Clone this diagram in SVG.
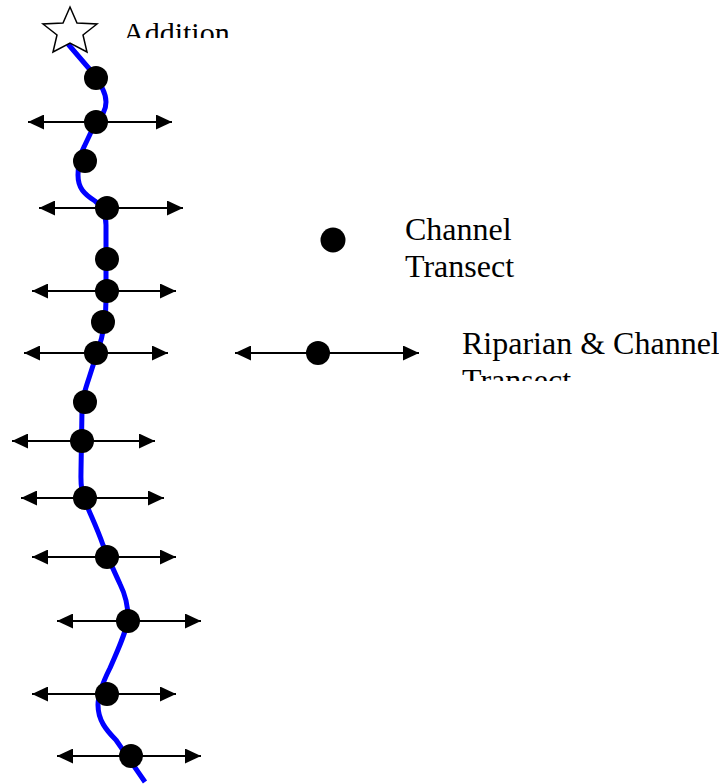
<svg xmlns="http://www.w3.org/2000/svg" width="719" height="784" viewBox="0 0 719 784">
<style>
.lbl{font-family:"Liberation Serif","Times New Roman",serif;font-size:32px;fill:#000}
.river{fill:none;stroke:#0000FF;stroke-width:5;stroke-linecap:butt;stroke-linejoin:round}
.dot{fill:#000}
.tr{stroke:#000;stroke-width:2;marker-start:url(#ah);marker-end:url(#ah)}
</style>
<defs>
<marker id="ah" viewBox="0 -7.5 16 15" refX="16" refY="0" markerWidth="16" markerHeight="15" markerUnits="userSpaceOnUse" orient="auto-start-reverse">
<path d="M0,-7.5 L16,0 L0,7.5 Z" fill="#000"/>
</marker>
<clipPath id="clipAdd"><rect x="100" y="0" width="200" height="38"/></clipPath>
<clipPath id="clipRip"><rect x="440" y="310" width="279" height="71"/></clipPath>
</defs>
<rect width="719" height="784" fill="#fff"/>
<g id="river">
<path class="river" d="M68,44 L92,72 C100,84 106,92 106,102 C106,112 100,118 92,130 L84,147 C79,156 78,165 78,175 C78,188 84,194 95,201 C103,207 106,214 106,225 L106,300 C106,320 104,333 98,350 L89,378 C85,390 83,396 82,410 L81,470 C81,480 80,488 84,498 C88,510 96,525 103,545 C108,558 114,571 120,584 C126,596 128,606 128,618 C127,630 118,650 110,668 C104,680 98,693 98,705 C98,720 106,730 116,740 L145,782"/>
</g>
<g id="addition">
<polygon points="70,7 77,23 97,24 83,35 87,52 70,43 53,52 57,35 43,24 63,23" fill="#fff" stroke="#000" stroke-width="1.5" stroke-linejoin="miter"/>
<text class="lbl" x="123" y="43" style="font-size:30px" clip-path="url(#clipAdd)">Addition</text>
</g>
<g id="channel-transects">
<circle class="dot" cx="96" cy="78" r="12"/>
<circle class="dot" cx="85" cy="161" r="12"/>
<circle class="dot" cx="107" cy="259" r="12"/>
<circle class="dot" cx="103" cy="322" r="12"/>
<circle class="dot" cx="85" cy="402" r="12"/>
</g>
<g id="connectors">
<line class="tr" x1="28" y1="122" x2="172" y2="122"/>
<line class="tr" x1="39" y1="208" x2="183" y2="208"/>
<line class="tr" x1="32" y1="291" x2="176" y2="291"/>
<line class="tr" x1="24" y1="353" x2="168" y2="353"/>
<line class="tr" x1="12" y1="441" x2="155" y2="441"/>
<line class="tr" x1="21" y1="498" x2="164" y2="498"/>
<line class="tr" x1="32" y1="557" x2="176" y2="557"/>
<line class="tr" x1="57" y1="621" x2="201" y2="621"/>
<line class="tr" x1="32" y1="694" x2="176" y2="694"/>
<line class="tr" x1="57" y1="756" x2="201" y2="756"/>
<line class="tr" x1="235" y1="353" x2="419" y2="353"/>
</g>
<g id="riparian-transects">
<circle class="dot" cx="96" cy="122" r="12"/>
<circle class="dot" cx="107" cy="208" r="12"/>
<circle class="dot" cx="107" cy="291" r="12"/>
<circle class="dot" cx="96" cy="353" r="12"/>
<circle class="dot" cx="82" cy="441" r="12"/>
<circle class="dot" cx="85" cy="498" r="12"/>
<circle class="dot" cx="107" cy="557" r="12"/>
<circle class="dot" cx="128" cy="621" r="12"/>
<circle class="dot" cx="107" cy="694" r="12"/>
<circle class="dot" cx="131" cy="756" r="12"/>
</g>
<g id="legend-channel">
<circle class="dot" cx="333" cy="240" r="12.5"/>
<text class="lbl" x="405" y="240">Channel</text>
<text class="lbl" x="405" y="277">Transect</text>
</g>
<g id="legend-riparian">
<circle class="dot" cx="318" cy="353" r="12"/>
<text class="lbl" x="462" y="354" clip-path="url(#clipRip)">Riparian &amp; Channel</text>
<text class="lbl" x="462" y="391" clip-path="url(#clipRip)">Transect</text>
</g>
</svg>
